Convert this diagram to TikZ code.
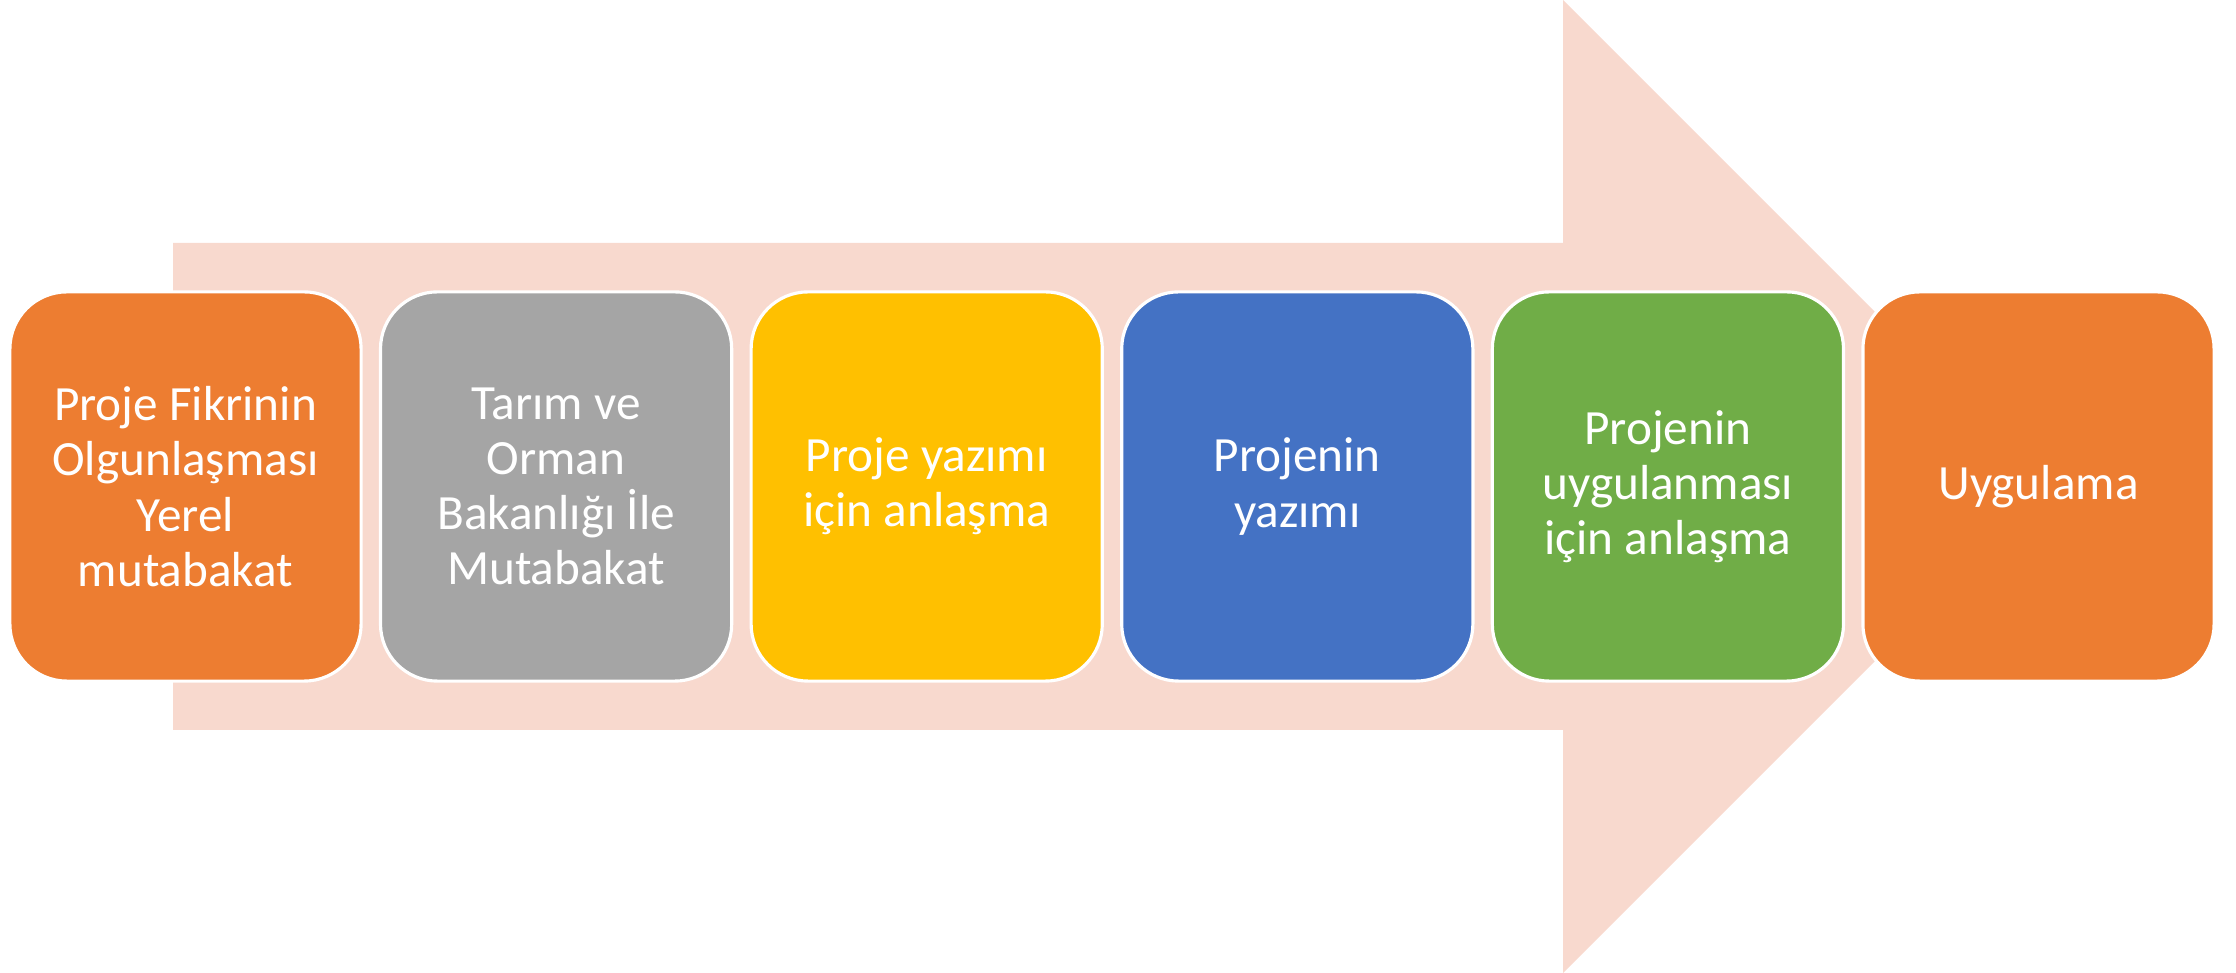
\documentclass[tikz,border=0pt]{standalone}
\usepackage{fontspec}
\setmainfont{Carlito}
\definecolor{arrowpink}{HTML}{F8D9CE}
\definecolor{boxorange}{HTML}{ED7D31}
\definecolor{boxgray}{HTML}{A5A5A5}
\definecolor{boxyellow}{HTML}{FFC000}
\definecolor{boxblue}{HTML}{4472C4}
\definecolor{boxgreen}{HTML}{70AD47}
\tikzset{
  stepbox/.style={draw=white, line width=0.9pt, rounded corners=0.57cm,
    minimum width=3.51cm, minimum height=3.89cm, align=center,
    text=white, inner sep=0pt, font=\fontsize{14}{15.7}\selectfont}
}
\begin{document}
\begin{tikzpicture}[x=0.01cm,y=0.01cm]
\useasboundingbox (0,0) rectangle (2236,973);
\fill[arrowpink](173,243)--(1563,243)--(1563,0)--(2049.5,486.5)--(1563,973)--(1563,730)--(173,730)--cycle;
\foreach \i/\c/\t in {1/boxorange/{Proje Fikrinin\\Olgunlaşması\\Yerel\\mutabakat},
  2/boxgray/{Tarım ve\\Orman\\Bakanlığı İle\\Mutabakat},
  3/boxyellow/{Proje yazımı\\için anlaşma},
  4/boxblue/{Projenin\\yazımı},
  5/boxgreen/{Projenin\\uygulanması\\için anlaşma},
  6/boxorange/{Uygulama}}
{
    \node[stepbox, fill=\c] (step\i) at ({185.5+370.6*(\i-1)},486.5) {\t};
}
\end{tikzpicture}
\end{document}
